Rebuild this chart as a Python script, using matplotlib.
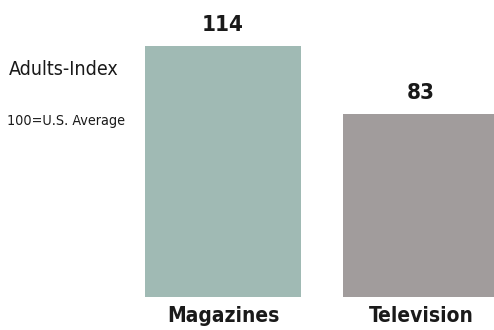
import matplotlib
matplotlib.use("Agg")
import matplotlib.pyplot as plt

# data
categories = ["Magazines", "Television"]
index_values = [114, 83]
bar_colors = ["#a0bab4", "#a19c9c"]

fam = ["DejaVu Sans Condensed", "Liberation Sans Narrow", "DejaVu Sans"]
ink = "#1a1a1a"

fig = plt.figure(figsize=(4.94, 3.30), dpi=100)
ax = fig.add_axes([0, 33 / 330, 1, 297 / 330])
ax.bar(range(len(categories)), index_values, width=0.79, color=bar_colors)
ax.set_xlim(-1.126, 1.369)
ax.set_ylim(0, 135)
ax.axis("off")

# value labels above bars
for i, v in enumerate(index_values):
    ax.text(i, v + 7, str(v), ha="center", va="baseline", fontsize=16,
            fontweight="bold", fontstretch="condensed", family=fam, color=ink)
# category labels under bars
for i, c in enumerate(categories):
    ax.text(i, -11.4, c, ha="center", va="baseline", fontsize=15,
            fontweight="bold", fontstretch="condensed", family=fam, color=ink)

fig.text(9 / 494, 1 - 75 / 330, "Adults-Index", ha="left", va="baseline",
         fontsize=14, fontstretch="condensed", family=fam, color=ink)
fig.text(7 / 494, 1 - 125 / 330, "100=U.S. Average", ha="left", va="baseline",
         fontsize=10.3, fontstretch="condensed", family=fam, color=ink)

fig.savefig("out.png", dpi=100)
